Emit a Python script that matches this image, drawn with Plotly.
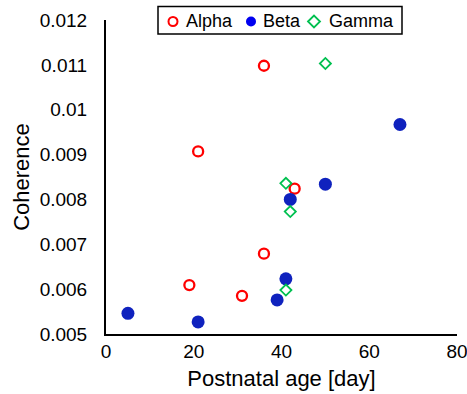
import plotly.graph_objects as go

alpha_x = [36, 21, 43, 36, 19, 31]
alpha_y = [0.01098, 0.00907, 0.00824, 0.00679, 0.00609, 0.00585]
beta_x = [67, 50, 42, 41, 39, 5, 21]
beta_y = [0.00967, 0.00834, 0.00800, 0.00623, 0.00576, 0.00546, 0.00527]
gamma_x = [50, 41, 42, 41]
gamma_y = [0.01103, 0.00836, 0.00773, 0.00598]
series_names = ["Alpha", "Beta", "Gamma"]

FONT = "Liberation Sans, Arial, sans-serif"
RED, BLUE, GREEN = "#FF0000", "#0F22BE", "#00C050"

fig = go.Figure()
fig.add_trace(go.Scatter(x=alpha_x, y=alpha_y, mode="markers", name=series_names[0],
                         marker=dict(symbol="circle-open", size=10, color=RED,
                                     line=dict(width=2.3, color=RED))))
fig.add_trace(go.Scatter(x=beta_x, y=beta_y, mode="markers", name=series_names[1],
                         marker=dict(symbol="circle", size=13, color=BLUE)))
fig.add_trace(go.Scatter(x=gamma_x, y=gamma_y, mode="markers", name=series_names[2],
                         marker=dict(symbol="diamond-open", size=8.5, color=GREEN,
                                     line=dict(width=1.8, color=GREEN))))

# plot box in pixels: x 106..457, y 5..334 (yaxis domain ends at y=20)
L, R, T, B = 106, 457, 5, 334
def px(x):
    return (x - L) / (R - L)
def py(y):
    return (B - y) / (B - T)

shapes = [
    # legend frame
    dict(type="rect", xref="paper", yref="paper", x0=px(158), x1=px(402), y0=py(34), y1=py(6.5),
         line=dict(color="#000000", width=1.5), fillcolor="white", layer="above"),
    # legend markers
    dict(type="circle", xref="paper", yref="paper", xsizemode="pixel", ysizemode="pixel",
         xanchor=px(173), yanchor=py(21.5), x0=-4.5, x1=4.5, y0=-4.5, y1=4.5,
         line=dict(color=RED, width=2), layer="above"),
    dict(type="circle", xref="paper", yref="paper", xsizemode="pixel", ysizemode="pixel",
         xanchor=px(251), yanchor=py(21.5), x0=-5, x1=5, y0=-5, y1=5,
         line=dict(color="#0000F0", width=0), fillcolor="#0000F0", layer="above"),
    dict(type="path", xref="paper", yref="paper", xsizemode="pixel", ysizemode="pixel",
         xanchor=px(314), yanchor=py(21.5), path="M -6 0 L 0 6 L 6 0 L 0 -6 Z",
         line=dict(color=GREEN, width=1.8), layer="above"),
]
annotations = [
    dict(text=series_names[0], xref="paper", yref="paper", x=px(184), y=py(21),
         xanchor="left", yanchor="middle", showarrow=False, font=dict(size=18, family=FONT)),
    dict(text=series_names[1], xref="paper", yref="paper", x=px(261), y=py(21),
         xanchor="left", yanchor="middle", showarrow=False, font=dict(size=18, family=FONT)),
    dict(text=series_names[2], xref="paper", yref="paper", x=px(327), y=py(21),
         xanchor="left", yanchor="middle", showarrow=False, font=dict(size=18, family=FONT)),
]

fig.update_layout(
    width=467, height=394,
    margin=dict(l=L, r=467 - R, t=T, b=394 - B, autoexpand=False),
    paper_bgcolor="white", plot_bgcolor="white",
    font=dict(family=FONT, color="#000000", size=18),
    showlegend=False,
    shapes=shapes,
    annotations=annotations,
)
fig.update_xaxes(range=[0, 80], dtick=20, showline=True, linecolor="#000000", linewidth=2,
                 showgrid=False, zeroline=False, ticks="", ticklabelstandoff=-1,
                 ticklabeloverflow="allow", automargin=False,
                 tickfont=dict(size=19, family=FONT),
                 title=dict(text="Postnatal age [day]", font=dict(size=22, family=FONT), standoff=10))
fig.update_yaxes(range=[0.005, 0.012], dtick=0.001, showline=True, linecolor="#000000", linewidth=2,
                 showgrid=False, zeroline=False, ticks="", ticklabelstandoff=13,
                 domain=[0, (B - 20) / (B - T)], automargin=False,
                 tickfont=dict(size=19, family=FONT), tickformat="~g",
                 title=dict(text="Coherence", font=dict(size=22, family=FONT), standoff=4))

fig.write_html("out.html", post_script="document.body.style.margin='0px';",
               config={"displayModeBar": False})
